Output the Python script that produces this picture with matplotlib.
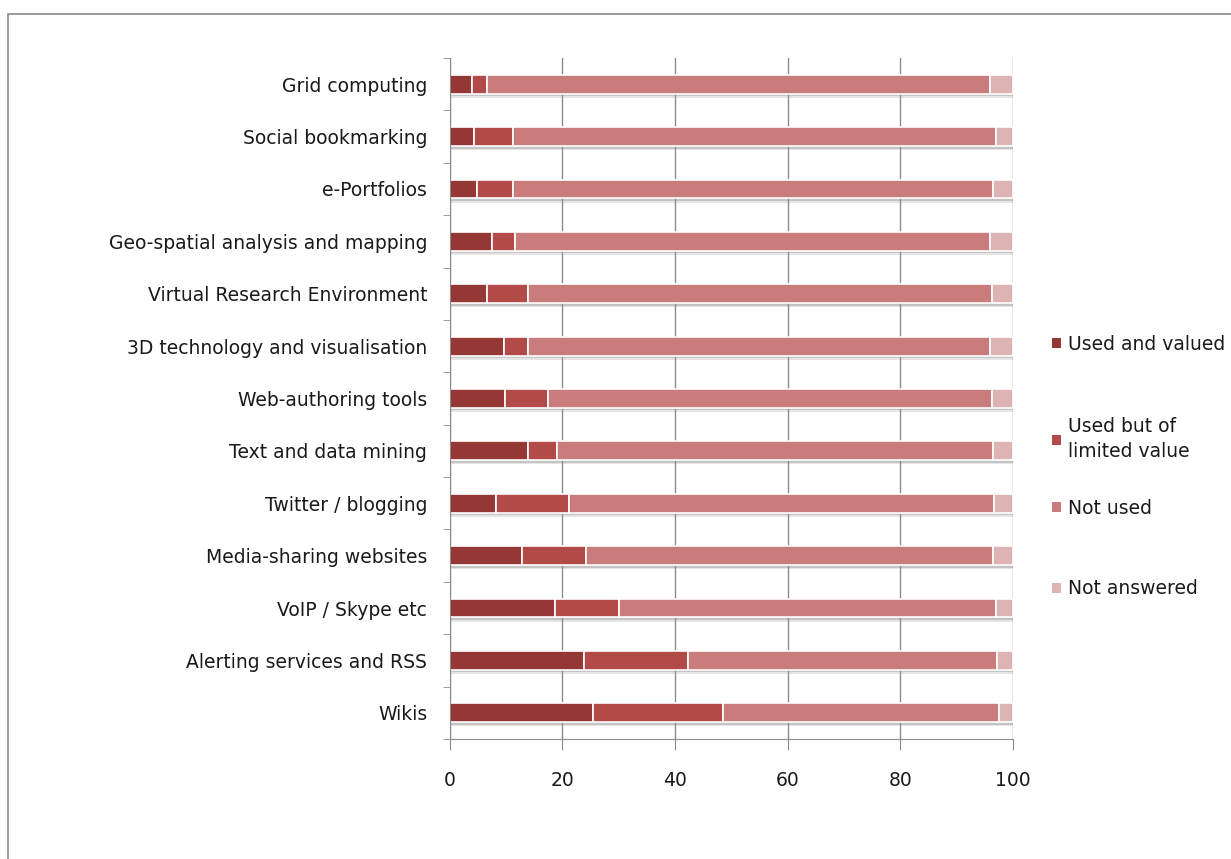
import matplotlib.pyplot as plt
import matplotlib.patheffects as pe
from matplotlib.patches import Rectangle, Patch
import numpy as np

plt.rcParams['font.family'] = ['DejaVu Sans']
plt.rcParams['text.color'] = '#1a1a1a'
plt.rcParams['xtick.color'] = '#1a1a1a'
plt.rcParams['ytick.color'] = '#1a1a1a'

tools = [
    "Grid computing",
    "Social bookmarking",
    "e-Portfolios",
    "Geo-spatial analysis and mapping",
    "Virtual Research Environment",
    "3D technology and visualisation",
    "Web-authoring tools",
    "Text and data mining",
    "Twitter / blogging",
    "Media-sharing websites",
    "VoIP / Skype etc",
    "Alerting services and RSS",
    "Wikis",
]

# percentages of respondents
used_valued = [4.0, 4.3, 4.8, 7.6, 6.7, 9.6, 9.8, 14.0, 8.3, 12.8, 18.8, 23.8, 25.4]
used_limited = [2.7, 6.9, 6.4, 4.0, 7.2, 4.4, 7.6, 5.0, 12.9, 11.5, 11.2, 18.5, 23.2]
not_used = [89.3, 85.7, 85.3, 84.4, 82.4, 81.9, 78.9, 77.5, 75.5, 72.2, 66.9, 54.9, 48.9]
not_answered = [4.0, 3.1, 3.5, 4.0, 3.7, 4.1, 3.7, 3.5, 3.3, 3.5, 3.1, 2.8, 2.5]

series = [
    ("Used and valued", used_valued, '#943735'),
    ("Used but of\nlimited value", used_limited, '#b24a47'),
    ("Not used", not_used, '#c97c7b'),
    ("Not answered", not_answered, '#ddb3b3'),
]

fig = plt.figure(figsize=(12.31, 8.59), dpi=100)
ax = fig.add_axes([449.5 / 1231, 1 - 739 / 859, (1013 - 449.5) / 1231, (739 - 58) / 859])

# outer frame
fig.patches.append(Rectangle((8 / 1231, -0.1), 1.2, (859 - 14) / 859 + 0.1,
                             transform=fig.transFigure, fill=False,
                             edgecolor='#8a8a8a', lw=1.2))

y = np.arange(len(tools))
left = np.zeros(len(tools))
# soft drop shadow under every bar
shadow = [pe.SimplePatchShadow(offset=(0.3, -3.0), shadow_rgbFace='#999999', alpha=0.25),
          pe.SimplePatchShadow(offset=(0.3, -1.8), shadow_rgbFace='#888888', alpha=0.35),
          pe.Normal()]
for name, vals, col in series:
    vals = np.array(vals)
    bars = ax.barh(y, vals, left=left, height=0.36, color=col,
                   edgecolor='white', linewidth=1.2, label=name)
    for b in bars:
        b.set_path_effects(shadow)
    left += vals

ax.set_xlim(0, 100)
ax.set_ylim(len(tools) - 0.5, -0.5)
ax.set_xticks(range(0, 101, 20))
ax.set_yticks(y)
ax.set_yticklabels(tools)
ax.set_yticks(np.arange(-0.5, len(tools)), minor=True)

ax.set_axisbelow(True)
ax.xaxis.grid(True, color='#8c8c8c', lw=1)

for s in ['top', 'right']:
    ax.spines[s].set_visible(False)
for s in ['left', 'bottom']:
    ax.spines[s].set_color('#8c8c8c')

ax.tick_params(axis='y', which='major', length=0, pad=16, labelsize=13.5)
ax.tick_params(axis='y', which='minor', length=5, color='#8c8c8c', direction='out')
ax.tick_params(axis='x', length=8, color='#8c8c8c', direction='out', pad=15, labelsize=13.5)

# legend entries placed one by one (fig.legend registers each on the figure)
legend_y = [344, 439, 508, 589]
for (name, _, col), ly in zip(series, legend_y):
    leg = fig.legend([Patch(facecolor=col, edgecolor='none')], [name], loc='center left',
                     bbox_to_anchor=(1052 / 1231, 1 - ly / 859),
                     frameon=False, fontsize=13.5, handlelength=0.5,
                     handleheight=0.5, handletextpad=0.35, borderpad=0,
                     borderaxespad=0)
    leg.get_texts()[0].set_linespacing(1.45)

fig.savefig('out.png', dpi=100)
